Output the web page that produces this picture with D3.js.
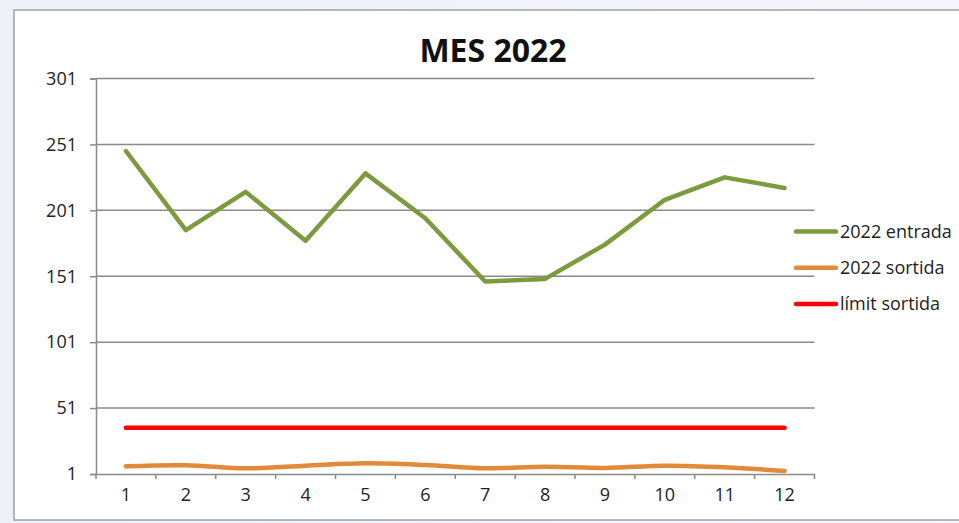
<!DOCTYPE html>
<html><head><meta charset="utf-8">
<script src="https://cdn.jsdelivr.net/npm/d3@7"></script>
<style>
html,body{margin:0;padding:0;background:#eff2f7;}
svg{display:block;font-family:"Open Sans",sans-serif;}
</style></head>
<body>
<svg id="c" width="959" height="523"></svg>
<script>
const months = [1,2,3,4,5,6,7,8,9,10,11,12];
const entrada = [246,186,215,178,229,195,147,149,175,209,226,218];
const sortida = [6.8,7.6,5.3,7.3,9.1,7.8,5.3,6.5,5.6,7.3,6.1,3.3];
const limit = [36,36,36,36,36,36,36,36,36,36,36,36];
const yTicks = [1,51,101,151,201,251,301];
const seriesNames = ["2022 entrada","2022 sortida","límit sortida"];
const colors = ["#7b9b3e","#e3893a","#ff0000"];
const title = "MES 2022";

(function(){
const svg = d3.select("#c");
const defs = svg.append("defs");
const g0 = defs.append("linearGradient").attr("id","bg").attr("x1",0).attr("y1",0).attr("x2",1).attr("y2",0);
g0.append("stop").attr("offset","0").attr("stop-color","#edf1f7");
g0.append("stop").attr("offset","1").attr("stop-color","#f4f6fa");
svg.append("rect").attr("x",0).attr("y",0).attr("width",959).attr("height",523).attr("fill","url(#bg)");
svg.append("rect").attr("x",14).attr("y",10).attr("width",960).attr("height",510)
  .attr("fill","#ffffff").attr("stroke","#a0a0a0").attr("stroke-width",1.5);

const pL=96, pR=814.5, pT=78.5, pB=474;
const x = d3.scaleBand().domain(months).range([pL,pR]);
const y = d3.scaleLinear().domain([1,301]).range([pB,pT]);
const cx = d => x(d)+x.bandwidth()/2;

svg.append("g").selectAll("line").data(yTicks.slice(1)).join("line")
  .attr("x1",pL).attr("x2",pR).attr("y1",d=>y(d)).attr("y2",d=>y(d))
  .attr("stroke","#8a8a8a").attr("stroke-width",1.5);

const ya = svg.append("g").attr("transform",`translate(${pL},0)`)
  .call(d3.axisLeft(y).tickValues(yTicks).tickSize(6).tickPadding(13));
ya.select(".domain").attr("stroke","#8a8a8a").attr("stroke-width",1.5);
ya.selectAll(".tick line").attr("stroke","#8a8a8a").attr("stroke-width",1.5);
ya.selectAll("text").attr("font-size",18).attr("fill","#222").attr("font-family","Open Sans");

const xa = svg.append("g").attr("transform",`translate(0,${pB})`)
  .call(d3.axisBottom(x).tickSize(0).tickPadding(14));
xa.select(".domain").attr("stroke","#8a8a8a").attr("stroke-width",1.5);
xa.selectAll("text").attr("font-size",18).attr("fill","#222").attr("font-family","Open Sans");
const bounds = months.map(m=>x(m)).concat([pR]);
svg.append("g").selectAll("line").data(bounds).join("line")
  .attr("x1",d=>d).attr("x2",d=>d).attr("y1",pB).attr("y2",pB+5)
  .attr("stroke","#8a8a8a").attr("stroke-width",1.5);

const lineStraight = d3.line().x((d,i)=>cx(months[i])).y(d=>y(d));
const lineSmooth = d3.line().x((d,i)=>cx(months[i])).y(d=>y(d)).curve(d3.curveCatmullRom);
const data = [entrada,sortida,limit];
data.forEach((s,i)=>{
  svg.append("path").attr("d",(i===1?lineSmooth:lineStraight)(s))
    .attr("fill","none").attr("stroke",colors[i]).attr("stroke-width",4.5)
    .attr("stroke-linejoin","round").attr("stroke-linecap","round");
});

svg.append("text").attr("x",493).attr("y",62).attr("text-anchor","middle")
  .attr("font-size",32).attr("font-weight","bold").attr("fill","#111").text(title);

const lg = svg.append("g");
seriesNames.forEach((n,i)=>{
  const ly = 231.5 + i*36.2;
  lg.append("line").attr("x1",796).attr("x2",836).attr("y1",ly).attr("y2",ly)
    .attr("stroke",colors[i]).attr("stroke-width",4.5).attr("stroke-linecap","round");
  lg.append("text").attr("x",840).attr("y",ly+6).attr("font-size",18).attr("fill","#222").text(n);
});
})();
</script>
</body></html>
